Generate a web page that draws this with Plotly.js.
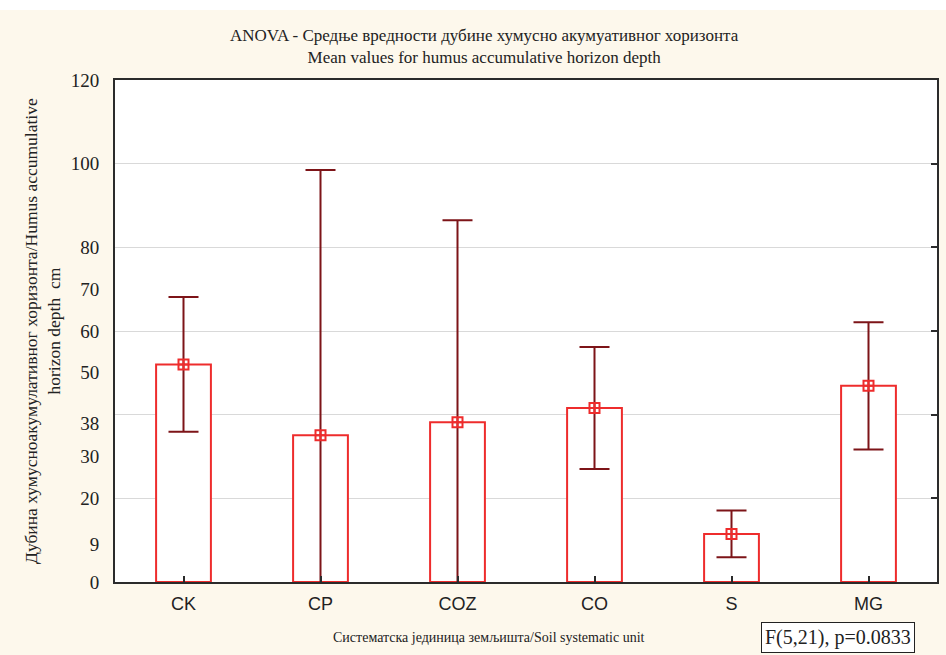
<!DOCTYPE html>
<html>
<head>
<meta charset="utf-8">
<script src="https://cdn.plot.ly/plotly-3.0.1.min.js"></script>
<style>
  html, body { margin: 0; padding: 0; background: #ffffff; }
  #chart { width: 946px; height: 655px; }
</style>
</head>
<body>
<div id="chart"></div>
<script>
// Soil systematic units and mean humus-accumulative horizon depth (cm)
const units = ['CK', 'CP', 'COZ', 'CO', 'S', 'MG'];
const meanDepth = [52.0, 35.1, 38.2, 41.6, 11.5, 46.9];
// half-width of the confidence interval for each mean
const ciHalf = [16.1, 63.4, 48.3, 14.6, 5.6, 15.2];

// left-axis labels
const yLabelVals = [0, 9, 20, 30, 38, 50, 60, 70, 80, 100, 120];
const yLabelText = ['0', '9', '20', '30', '38', '50', '60', '70', '80', '100', '120'];
// grid / right-side tick positions
const yGridVals = [20, 40, 60, 80, 100];

const serif = 'Liberation Serif, Times New Roman, serif';
const sans = 'Liberation Sans, Arial, sans-serif';
const red = '#ee2c2c';
const darkRed = '#7d1418';

const traces = [
  {
    type: 'bar',
    x: units,
    y: meanDepth,
    yaxis: 'y',
    width: 0.4,
    marker: { color: '#ffffff', line: { color: red, width: 2 } },
    hoverinfo: 'x+y'
  },
  {
    type: 'scatter',
    mode: 'markers',
    x: units,
    y: meanDepth,
    yaxis: 'y2',
    marker: { symbol: 'square-cross-open', size: 10, color: red, line: { color: red, width: 2 } },
    error_y: { type: 'data', array: ciHalf, visible: true, color: darkRed, thickness: 2, width: 15 },
    cliponaxis: true
  }
];

const layout = {
  width: 946,
  height: 655,
  margin: { l: 115, r: 9, t: 80, b: 73 },
  paper_bgcolor: '#fdf8ec',
  plot_bgcolor: '#ffffff',
  showlegend: false,
  xaxis: {
    type: 'category',
    range: [-0.5, 5.5],
    showline: true, mirror: true, linecolor: '#2b2b2b', linewidth: 2,
    ticks: 'inside', ticklen: 6, tickwidth: 2, tickcolor: '#2b2b2b',
    tickfont: { family: sans, size: 18, color: '#222222' },
    ticklabelstandoff: 4,
    showgrid: false, zeroline: false
  },
  yaxis: {
    range: [0, 120],
    side: 'left',
    tickvals: yLabelVals,
    ticktext: yLabelText,
    ticks: '',
    showgrid: false, zeroline: false,
    showline: true, mirror: true, linecolor: '#2b2b2b', linewidth: 2,
    tickfont: { family: serif, size: 19, color: '#222222' },
    ticklabelstandoff: 10
  },
  yaxis2: {
    overlaying: 'y',
    side: 'right',
    range: [0, 120],
    tickvals: yGridVals,
    showticklabels: false,
    ticks: 'inside', ticklen: 6, tickwidth: 2, tickcolor: '#2b2b2b',
    showgrid: true, gridcolor: '#d9d9d9', gridwidth: 1,
    showline: false, zeroline: false
  },
  annotations: [
    {
      xref: 'paper', yref: 'paper', x: 0.45, y: 1, yshift: 34, xanchor: 'center', yanchor: 'middle',
      text: 'ANOVA - Средње вредности дубине хумусно акумуативног хоризонта<br>Mean values for humus accumulative horizon depth',
      showarrow: false, align: 'center',
      font: { family: serif, size: 17, color: '#222222' }
    },
    {
      xref: 'paper', yref: 'paper', x: 0, xshift: -73, y: 0.5, xanchor: 'center', yanchor: 'middle',
      textangle: -90,
      text: 'Дубина хумусноакумулативног хоризонта/Humus accumulative<br>horizon depth  cm',
      showarrow: false, align: 'center',
      font: { family: serif, size: 17.5, color: '#222222' }
    },
    {
      xref: 'paper', yref: 'paper', x: 0.455, y: 0, yshift: -55, xanchor: 'center', yanchor: 'middle',
      text: 'Систематска јединица земљишта/Soil systematic unit',
      showarrow: false,
      font: { family: serif, size: 14, color: '#222222' }
    },
    {
      xref: 'paper', yref: 'paper', x: 0.8796, y: 0, yshift: -55, xanchor: 'center', yanchor: 'middle',
      text: 'F(5,21), p=0.0833',
      showarrow: false,
      bordercolor: '#222222', borderwidth: 1, borderpad: 3, bgcolor: '#ffffff',
      font: { family: serif, size: 20, color: '#222222' }
    }
  ]
};

// white strip along the top edge of the page (top 10px)
const pxToPaper = 1 / 502;
layout.shapes = [{
  type: 'rect', xref: 'paper', yref: 'paper',
  x0: -115 / 822, x1: 1 + 9 / 822,
  y0: 1 + (80 - 10) * pxToPaper, y1: 1 + 80 * pxToPaper,
  line: { width: 0 }, fillcolor: '#ffffff', layer: 'below'
}];

Plotly.newPlot('chart', traces, layout, { displayModeBar: false, staticPlot: true });
</script>
</body>
</html>
